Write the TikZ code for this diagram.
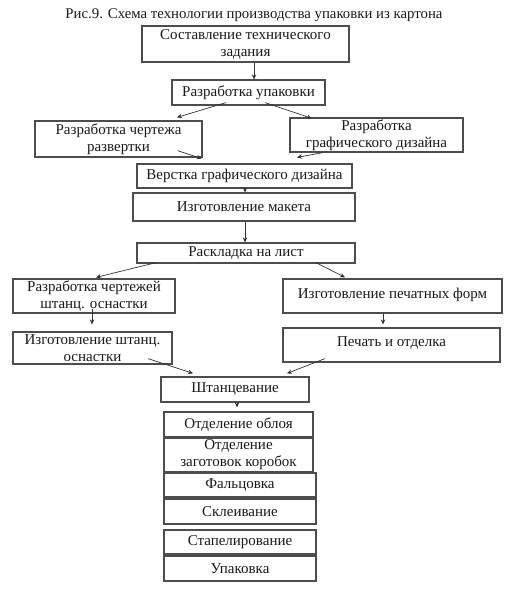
\documentclass[tikz,border=0pt]{standalone}
\usepackage{fontspec}
\setmainfont{Liberation Serif}
\usetikzlibrary{arrows.meta}
\definecolor{boxline}{HTML}{4D4D4D}
\definecolor{arrline}{HTML}{333333}
\tikzset{
  box/.style={draw=boxline, line width=1.2pt, fill=white, inner sep=0pt, align=center,
    font=\fontsize{15}{17}\selectfont, text=black!90},
  arr/.style={draw=arrline, line width=0.7pt, -{Stealth[length=5pt,width=4.5pt]}},
}
\begin{document}
\begin{tikzpicture}[x=1pt,y=-1pt]
\useasboundingbox (0,0) rectangle (527,600);
\node[font=\fontsize{14.8}{16}\selectfont, text=black!90] (title) at (254,15) {Рис.9. Схема технологии производства упаковки из картона};
\node[box, minimum width=207pt, minimum height=36pt] (b1) at (245.5,44) {Составление технического\\задания};
\node[box, minimum width=153pt, minimum height=25pt] (b2) at (248.5,92.5) {Разработка упаковки};
\node[box, minimum width=167pt, minimum height=36pt] (b3) at (118.5,139) {Разработка чертежа\\развертки};
\node[box, minimum width=173pt, minimum height=34pt] (b4) at (376.5,135) {Разработка\\графического дизайна};
\node[box, minimum width=215pt, minimum height=24pt] (b5) at (244.5,176) {Верстка графического дизайна};
\node[box, minimum width=222pt, minimum height=28pt] (b6) at (244,207) {Изготовление макета};
\node[box, minimum width=218pt, minimum height=20pt] (b7) at (246,253) {Раскладка на лист};
\node[box, minimum width=162pt, minimum height=34pt] (b8) at (94,296) {Разработка чертежей\\штанц. оснастки};
\node[box, minimum width=219pt, minimum height=34pt] (b9) at (392.5,296) {\raisebox{5pt}{Изготовление печатных форм}};
\node[box, minimum width=159pt, minimum height=32pt] (b10) at (92.5,348) {Изготовление штанц.\\оснастки};
\node[box, minimum width=217pt, minimum height=34pt] (b11) at (391.5,345) {\raisebox{7pt}{Печать и отделка}};
\node[box, minimum width=148pt, minimum height=25pt] (b12) at (235,389.5) {\raisebox{2pt}{Штанцевание}};
\node[box, minimum width=149pt, minimum height=25pt] (b13) at (238.5,424.5) {Отделение облоя};
\node[box, minimum width=149pt, minimum height=34pt] (b14) at (238.5,455) {Отделение\\заготовок коробок};
\node[box, minimum width=152pt, minimum height=24pt] (b15) at (240,485) {Фальцовка};
\node[box, minimum width=152pt, minimum height=25pt] (b16) at (240,511.5) {Склеивание};
\node[box, minimum width=152pt, minimum height=24pt] (b17) at (240,542) {Стапелирование};
\node[box, minimum width=152pt, minimum height=25pt] (b18) at (240,568.5) {Упаковка};
% connectors
\draw[arr] ([xshift=8.5pt]b1.south) -- ([xshift=5.5pt]b2.north);
\draw[arr] ([xshift=-22.5pt,yshift=3pt]b2.south) -- ([xshift=58.5pt,yshift=3pt]b3.north);
\draw[arr] ([xshift=16.5pt,yshift=3pt]b2.south) -- ([xshift=-64.5pt,yshift=-1pt]b4.north);
\draw[arr] ([xshift=-25pt,yshift=7pt]b3.south east) -- ([xshift=-1pt,yshift=-1pt]b3.south east);
\draw[arr] ([xshift=-53.5pt]b4.south) -- ([xshift=52.5pt,yshift=6pt]b5.north);
\draw[arr] ([xshift=0.5pt]b5.south) -- ([xshift=1pt]b6.north);
\draw[arr] ([xshift=1pt]b6.south) -- ([xshift=-1pt]b7.north);
\draw[arr] ([xshift=-90pt,yshift=1pt]b7.south) -- ([xshift=2pt,yshift=1pt]b8.north);
\draw[arr] ([xshift=70pt,yshift=1pt]b7.south) -- ([xshift=-47.5pt,yshift=1pt]b9.north);
\draw[arr] ([xshift=-2pt,yshift=5pt]b8.south) -- ([xshift=-0.5pt,yshift=7pt]b10.north);
\draw[arr] ([xshift=-9.5pt]b9.south) -- ([xshift=-8.5pt,yshift=3pt]b11.north);
\draw[arr] ([xshift=55.5pt,yshift=6pt]b10.south) -- ([xshift=-42pt,yshift=3pt]b12.north);
\draw[arr] ([xshift=-66.5pt,yshift=4pt]b11.south) -- ([xshift=52pt,yshift=3pt]b12.north);
\draw[arr] ([xshift=2pt]b12.south) -- ([xshift=-1.5pt,yshift=4pt]b13.north);
\end{tikzpicture}
\end{document}
